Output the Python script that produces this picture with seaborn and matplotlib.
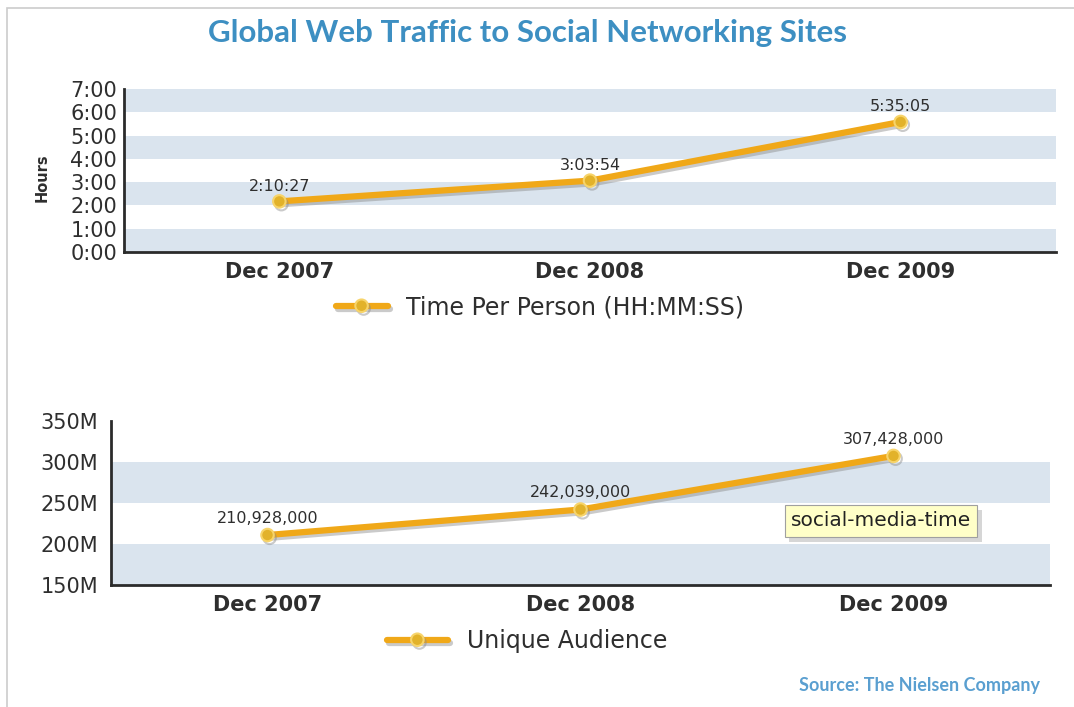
import matplotlib
matplotlib.use("Agg")
import matplotlib.pyplot as plt
import seaborn as sns
import pandas as pd
from matplotlib import patheffects as pe
from matplotlib.patches import Rectangle

# ---------------- data ----------------
periods = ["Dec 2007", "Dec 2008", "Dec 2009"]
time_hours = [2 + 10/60 + 27/3600, 3 + 3/60 + 54/3600, 5 + 35/60 + 5/3600]
time_labels = ["2:10:27", "3:03:54", "5:35:05"]
audience_m = [210.928, 242.039, 307.428]
audience_labels = ["210,928,000", "242,039,000", "307,428,000"]
hour_ticks = [0, 1, 2, 3, 4, 5, 6, 7]
hour_tick_labels = ["0:00", "1:00", "2:00", "3:00", "4:00", "5:00", "6:00", "7:00"]
aud_ticks = [150, 200, 250, 300, 350]
aud_tick_labels = ["150M", "200M", "250M", "300M", "350M"]
hour_bands = [(0, 1), (2, 3), (4, 5), (6, 7)]
aud_bands = [(150, 200), (250, 300)]

# ---------------- style ----------------
LINE = "#f0a818"
MK_FACE = "#e2b22a"
MK_EDGE = "#f7d46a"
BAND = "#dae4ee"
SPINE = "#2b2b2b"
TXT = "#2e2e2e"
TITLE = "#3d8fc2"

sns.set_theme(style="white")
plt.rcParams["font.family"] = ["DejaVu Sans"]

W, H = 1074, 707
fig = plt.figure(figsize=(W / 100, H / 100), dpi=100)


def rect(l, t, r, b):
    return [l / W, 1 - b / H, (r - l) / W, (b - t) / H]


ax1 = fig.add_axes(rect(124, 89, 1056, 252))
ax2 = fig.add_axes(rect(111, 421, 1050, 585))

shadow = [pe.SimpleLineShadow(offset=(1.5, -2), shadow_color="#8a8a8a", alpha=0.45), pe.Normal()]

df1 = pd.DataFrame({"x": range(len(periods)), "y": time_hours})
df2 = pd.DataFrame({"x": range(len(periods)), "y": audience_m})

sns.lineplot(data=df1, x="x", y="y", ax=ax1, color=LINE, lw=4.5, marker="o",
             markersize=9, markerfacecolor=MK_FACE, markeredgecolor=MK_EDGE,
             markeredgewidth=1.5, label="Time Per Person (HH:MM:SS)",
             path_effects=shadow, zorder=3)
sns.lineplot(data=df2, x="x", y="y", ax=ax2, color=LINE, lw=4.5, marker="o",
             markersize=9, markerfacecolor=MK_FACE, markeredgecolor=MK_EDGE,
             markeredgewidth=1.5, label="Unique Audience",
             path_effects=shadow, zorder=3)

for lo, hi in hour_bands:
    ax1.axhspan(lo, hi, color=BAND, lw=0, zorder=0)
for lo, hi in aud_bands:
    ax2.axhspan(lo, hi, color=BAND, lw=0, zorder=0)

for ax, ticks, labels, ylim, ypad in [
    (ax1, hour_ticks, hour_tick_labels, (0, 7), 5),
    (ax2, aud_ticks, aud_tick_labels, (150, 350), 9),
]:
    ax.set_xlim(-0.5, len(periods) - 0.5)
    ax.set_ylim(*ylim)
    ax.set_xticks(range(len(periods)))
    ax.set_xticklabels(periods, fontsize=15, fontweight="bold", color=TXT)
    ax.set_yticks(ticks)
    ax.set_yticklabels(labels, fontsize=15, color=TXT)
    ax.tick_params(axis="x", length=0, pad=7)
    ax.tick_params(axis="y", length=0, pad=ypad)
    ax.set_xlabel("")
    ax.set_ylabel("")
    ax.set_facecolor("white")
    for s in ["top", "right"]:
        ax.spines[s].set_visible(False)
    for s in ["left", "bottom"]:
        ax.spines[s].set_color(SPINE)
        ax.spines[s].set_linewidth(2)
    ax.grid(False)

for i, (v, t) in enumerate(zip(time_hours, time_labels)):
    ax1.annotate(t, (i, v), xytext=(0, 11), textcoords="offset points",
                 ha="center", va="center", fontsize=11.5, color=TXT)
for i, (v, t) in enumerate(zip(audience_m, audience_labels)):
    ax2.annotate(t, (i, v), xytext=(0, 12), textcoords="offset points",
                 ha="center", va="center", fontsize=11.5, color=TXT,
                 annotation_clip=False)

ax1.legend(loc="center", bbox_to_anchor=(540 / W, 1 - 307 / H),
           bbox_transform=fig.transFigure, frameon=False, fontsize=17,
           handlelength=2.2, handletextpad=0.8, labelcolor=TXT)
ax2.legend(loc="center", bbox_to_anchor=(527 / W, 1 - 641 / H),
           bbox_transform=fig.transFigure, frameon=False, fontsize=17,
           handlelength=2.6, handletextpad=0.8, labelcolor=TXT)

fig.text(42 / W, 1 - 178 / H, "Hours", rotation=90, fontsize=10.5,
         fontweight="bold", color=TXT, ha="center", va="center")

fig.text(527 / W, 1 - 33 / H, "Global Web Traffic to Social Networking Sites",
         fontsize=22.5, fontweight="bold", color=TITLE, ha="center", va="center",
         family=["Lato", "DejaVu Sans"])

fig.text(1040 / W, 1 - 685 / H, "Source: The Nielsen Company", fontsize=13,
         fontweight="bold", color="#5a9fd0", ha="right", va="center",
         family=["Lato", "DejaVu Sans"])

# tooltip with a soft drop shadow
fig.add_artist(Rectangle((789 / W, 1 - 542 / H), 193 / W, 32 / H, transform=fig.transFigure,
                         facecolor="#000000", alpha=0.16, edgecolor="none"))
fig.text(881 / W, 1 - 521 / H, "social-media-time", fontsize=14.5, color="#222222",
         ha="center", va="center",
         bbox=dict(boxstyle="square,pad=0.3", facecolor="#ffffc8", edgecolor="#a0a0a0", lw=0.8))

# outer frame lines
fig.add_artist(Rectangle((7 / W, -0.1), 1.2, 1 - 8 / H + 0.1, transform=fig.transFigure,
                         fill=False, edgecolor="#cccccc", lw=1.2))

fig.savefig("out.png", dpi=100)
